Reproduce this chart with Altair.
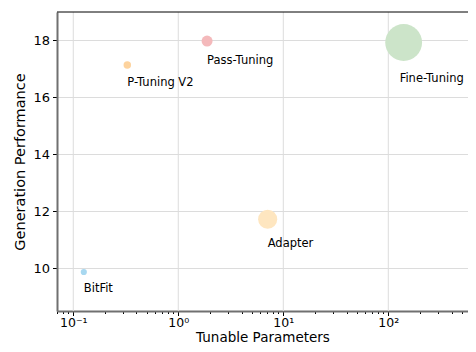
import math
import altair as alt
import pandas as pd

# ---- data ----
methods = ["BitFit", "P-Tuning V2", "Pass-Tuning", "Adapter", "Fine-Tuning"]
params = [0.126, 0.327, 1.88, 7.1, 140.0]          # tunable parameters (log scale)
performance = [9.87, 17.14, 17.98, 11.72, 17.93]   # generation performance
bubble = [2.8, 4.1, 8.9, 26.9, 100.0]              # relative bubble magnitude
colors = ["#a8d8f0", "#fdd39e", "#f4b9bb", "#fee6c0", "#cce4c9"]

y_ticks = [10, 12, 14, 16, 18]
x_major = [0.1, 1, 10, 100]
x_ticks = [k * 10.0 ** e for e in range(-2, 4) for k in range(1, 10)]
x_ticks = [v for v in x_ticks if 0.0699 <= v <= 574]
sup_labels = ["10\u207b\u00b9", "10\u2070", "10\u00b9", "10\u00b2"]

df = pd.DataFrame({
    "method": methods,
    "params": params,
    "performance": performance,
    "bubble": bubble,
})
grid_df = pd.DataFrame({"decade": x_major})

W, H = 411, 299
MAX_AREA = 1359
FONT = "DejaVu Sans"
GRID = "#dcdcdc"

MAJOR = "abs(log(datum.value)/LN10 - round(log(datum.value)/LN10)) < 0.001"
label_expr = (
    f"({MAJOR}) ? ['" + "','".join(sup_labels) + "'][round(log(datum.value)/LN10)+1] : ''"
)

x_scale = alt.Scale(type="log", domain=[0.07, 574], nice=False)

x_enc = alt.X(
    "params:Q",
    title="Tunable Parameters",
    scale=x_scale,
    axis=alt.Axis(
        values=x_ticks,
        labelExpr=label_expr,
        labelOverlap=False,
        labelFlush=False,
        labelFontSize=12.5,
        tickSize={"condition": {"test": MAJOR, "value": 4.5}, "value": 2.5},
        grid=False,
        labelPadding=0.5,
        titleFontSize=13.5,
        titleBaseline="alphabetic",
        titleY=30,
    ),
)
y_enc = alt.Y(
    "performance:Q",
    title="Generation Performance",
    scale=alt.Scale(domain=[8.5, 19.0], nice=False, zero=False),
    axis=alt.Axis(values=y_ticks, tickSize=4.5, labelPadding=3, titlePadding=5,
                  labelFontSize=13, titleFontSize=14.5, gridColor=GRID),
)

base = alt.Chart(df)

vgrid = alt.Chart(grid_df).mark_rule(color=GRID, strokeWidth=1).encode(
    x=alt.X("decade:Q", scale=x_scale)
)

points = base.mark_circle(opacity=1, stroke=None).encode(
    x=x_enc,
    y=y_enc,
    size=alt.Size("bubble:Q", scale=alt.Scale(domain=[0, 100], range=[0, MAX_AREA]), legend=None),
    color=alt.Color("method:N", scale=alt.Scale(domain=methods, range=colors), legend=None),
)

label_layers = []
for i, (m, b) in enumerate(zip(methods, bubble)):
    r = math.sqrt(b / 100 * MAX_AREA / math.pi)
    shift = -4 if i == len(methods) - 1 else 0   # keep the right-most label inside the frame
    label_layers.append(
        base.transform_filter(alt.datum.method == m)
        .mark_text(align="left", baseline="alphabetic", dx=shift, dy=1.11 * r + 16.1,
                   font=FONT, fontSize=11.5, color="black")
        .encode(x="params:Q", y="performance:Q", text="method:N")
    )

top_spine = alt.Chart(pd.DataFrame({"s": [0]})).mark_rule(color="black", strokeWidth=1).encode(
    x=alt.value(0), x2=alt.value(W), y=alt.value(0)
)

chart = (
    alt.layer(vgrid, points, *label_layers, top_spine)
    .properties(
        width=W,
        height=H,
        autosize=alt.AutoSizeParams(type="none"),
        padding={"left": 49, "top": 4, "right": 0, "bottom": 33},
    )
    .configure_view(stroke="transparent", strokeWidth=0)
    .configure_axis(
        labelFont=FONT,
        titleFont=FONT,
        titleFontWeight="normal",
        labelColor="black",
        titleColor="black",
        tickColor="black",
        tickWidth=1,
        domainColor="#707070",
        domainWidth=2,
        gridColor=GRID,
        gridWidth=1,
    )
)

chart.save("out.html", embed_options={"renderer": "svg", "actions": False})
